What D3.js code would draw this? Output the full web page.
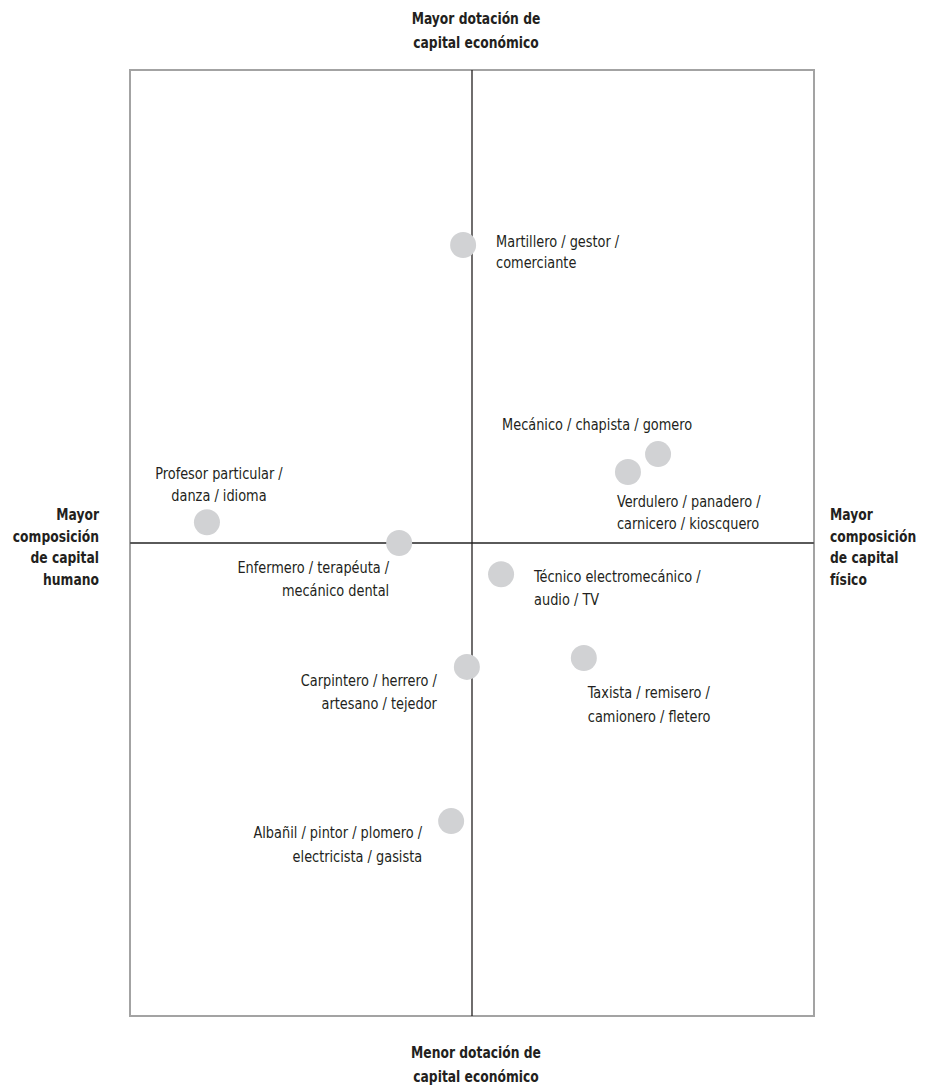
<!DOCTYPE html>
<html><head><meta charset="utf-8">
<script src="https://cdn.jsdelivr.net/npm/d3@7"></script>
<style>
body{margin:0;background:#fff;}
svg text{font-family:"Liberation Sans Narrow","Arial Narrow","DejaVu Sans Condensed","Roboto Condensed",sans-serif;fill:#231f20;}
</style></head><body>
<svg id="chart" width="939" height="1092"></svg>
<script>
// Data: x = capital humano (-) vs capital físico (+); y = capital económico (+ mayor / - menor)
const categories = [
  "Martillero / gestor /\ncomerciante",
  "Profesor particular /\ndanza / idioma",
  "Enfermero / terapéuta /\nmecánico dental",
  "Mecánico / chapista / gomero",
  "Verdulero / panadero /\ncarnicero / kioscquero",
  "Técnico electromecánico /\naudio / TV",
  "Taxista / remisero /\ncamionero / fletero",
  "Carpintero / herrero /\nartesano / tejedor",
  "Albañil / pintor / plomero /\nelectricista / gasista"
];
const xValues = [-2.6, -77.5, -21.3, 54.4, 45.6, 8.5, 32.7, -1.5, -6.1];
const yValues = [63, 4.4, 0, 18.8, 15, -6.6, -24.3, -26.2, -58.8];
const topTitle = ["Mayor dotación de", "capital económico"];
const bottomTitle = ["Menor dotación de", "capital económico"];
const leftTitle = ["Mayor", "composición", "de capital", "humano"];
const rightTitle = ["Mayor", "composición", "de capital", "físico"];

// Layout (label placement relative to each point)
const labelLayout = [
  {dx:33, dy:[2,23], anchor:"start"},
  {dx:12, dy:[-43,-21], anchor:"middle"},
  {dx:-10, dy:[30,53], anchor:"end"},
  {dx:-156, dy:[-24], anchor:"start"},
  {dx:-11, dy:[35,57], anchor:"start"},
  {dx:33, dy:[8,31], anchor:"start"},
  {dx:4, dy:[40,64], anchor:"start"},
  {dx:-30, dy:[19,42], anchor:"end"},
  {dx:-29, dy:[17,41], anchor:"end"}
];

const svg = d3.select("#chart");
const L = 130, R = 814, T = 70, B = 1016;
const x = d3.scaleLinear().domain([-100, 100]).range([L, R]);
const y = d3.scaleLinear().domain([-100, 100]).range([B, T]);

// frame
svg.append("rect").attr("x", L).attr("y", T).attr("width", R - L).attr("height", B - T)
  .attr("fill", "none").attr("stroke", "#a3a3a3").attr("stroke-width", 2);
// center lines
svg.append("line").attr("x1", L).attr("x2", R).attr("y1", y(0)).attr("y2", y(0))
  .attr("stroke", "#5a5a5a").attr("stroke-width", 2);
svg.append("line").attr("x1", x(0)).attr("x2", x(0)).attr("y1", T).attr("y2", B)
  .attr("stroke", "#231f20").attr("stroke-width", 1.3);

const fs = 16.5;
function block(lines, xp, ys, anchor, bold) {
  const s = bold ? 0.83 : 0.87;
  lines.forEach((t, i) => {
    svg.append("text").attr("x", 0).attr("y", 0)
      .attr("transform", `translate(${xp},${ys[i]}) scale(${s},1)`)
      .attr("text-anchor", anchor)
      .attr("font-size", fs).attr("font-weight", bold ? "bold" : "normal").text(t);
  });
}
block(topTitle, 476, [24, 48], "middle", true);
block(bottomTitle, 476, [1058, 1082], "middle", true);
block(leftTitle, 99, [520, 542, 563, 585], "end", true);
block(rightTitle, 830, [520, 542, 563, 585], "start", true);

// points
const pts = categories.map((c, i) => ({c, xv: xValues[i], yv: yValues[i], lay: labelLayout[i]}));
svg.selectAll("circle.pt").data(pts).join("circle").attr("class", "pt")
  .attr("cx", d => x(d.xv)).attr("cy", d => y(d.yv)).attr("r", 13)
  .attr("fill", "#d1d2d4");

pts.forEach(d => {
  const lines = d.c.split("\n");
  block(lines, x(d.xv) + d.lay.dx, d.lay.dy.map(v => y(d.yv) + v), d.lay.anchor, false);
});
</script></body></html>
